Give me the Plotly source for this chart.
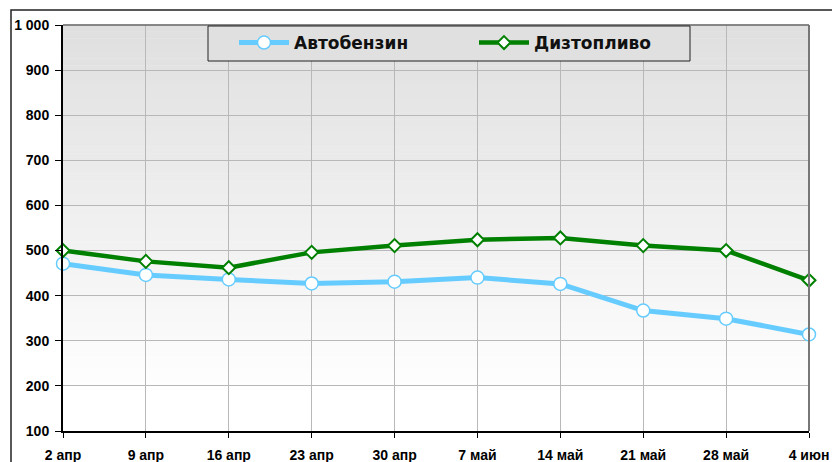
import plotly.graph_objects as go

categories = ["2 апр", "9 апр", "16 апр", "23 апр", "30 апр", "7 май", "14 май", "21 май", "28 май", "4 июн"]
benzin = [471, 446, 436, 427, 431, 440, 426, 367, 349, 314]
diesel = [500, 476, 462, 496, 511, 524, 528, 511, 500, 434]
y_ticks = [100, 200, 300, 400, 500, 600, 700, 800, 900, 1000]
y_tick_labels = ["100", "200", "300", "400", "500", "600", "700", "800", "900", "1 000"]

W, H = 832, 462
ml, mr, mt, mb = 63, 23, 25, 31
PW, PH = W - ml - mr, H - mt - mb


def px_x(p):
    return (p - ml) / PW


def px_y(p):
    return (H - mb - p) / PH


fig = go.Figure()
fig.add_trace(go.Scatter(
    x=categories, y=benzin, name="Автобензин", mode="lines+markers",
    line=dict(color="#66ccff", width=5),
    marker=dict(symbol="circle", size=13, color="white", line=dict(color="#66ccff", width=1.5)),
    cliponaxis=False,
))
fig.add_trace(go.Scatter(
    x=categories, y=diesel, name="Дизтопливо", mode="lines+markers",
    line=dict(color="#008000", width=4.5),
    marker=dict(symbol="diamond", size=10, color="white", line=dict(color="#008000", width=2)),
    cliponaxis=False,
))

shapes = []
n = 60
for i in range(n):
    t0 = i / n
    t1 = (i + 1) / n
    t = (i + 0.5) / n
    c = int(round(223 + (255 - 223) * min(1.0, t / 0.92)))
    shapes.append(dict(type="rect", xref="x domain", yref="y domain",
                       x0=0, x1=1, y0=1 - t1, y1=1 - t0 + 0.001,
                       fillcolor=f"rgb({c},{c},{c})", line=dict(width=0), layer="below"))
shapes.append(dict(type="line", xref="x domain", yref="y domain", x0=0, x1=1, y0=1, y1=1,
                   line=dict(color="#666666", width=1.5)))
shapes.append(dict(type="line", xref="x domain", yref="y domain", x0=1, x1=1, y0=0, y1=1,
                   line=dict(color="#777777", width=2)))
# legend box
shapes.append(dict(type="rect", xref="paper", yref="paper",
                   x0=px_x(208), x1=px_x(690), y0=px_y(61), y1=px_y(26),
                   fillcolor="#e0e0e0", line=dict(color="#222222", width=1), layer="above"))
# outer chart frame
shapes.append(dict(type="rect", xref="paper", yref="paper",
                   x0=px_x(11), x1=1.2, y0=-0.3, y1=px_y(10),
                   line=dict(color="#222222", width=1.5), fillcolor="rgba(0,0,0,0)", layer="above"))

fig.update_layout(
    width=W, height=H,
    margin=dict(l=ml, r=mr, t=mt, b=mb, autoexpand=False),
    paper_bgcolor="white",
    plot_bgcolor="white",
    shapes=shapes,
    showlegend=True,
    legend=dict(
        orientation="h",
        x=px_x(234), xanchor="left",
        y=1.0, yanchor="top",
        bgcolor="rgba(0,0,0,0)", borderwidth=0,
        font=dict(family="DejaVu Sans, Arial, sans-serif", size=17, color="#111111", weight="bold"),
        entrywidth=175, entrywidthmode="pixels",
        itemwidth=50,
        tracegroupgap=0,
    ),
    font=dict(family="Arial, Liberation Sans, sans-serif", size=13, color="black"),
)

fig.update_xaxes(
    type="category", range=[0, 9], automargin=False,
    showgrid=True, gridcolor="#b8b8b8", gridwidth=1,
    showline=True, linecolor="black", linewidth=2,
    ticks="outside", ticklen=5, tickcolor="black", tickwidth=1,
    ticklabelstandoff=5,
    tickfont=dict(family="Arial, Liberation Sans, sans-serif", size=14, color="black", weight="bold"),
    zeroline=False,
)
fig.update_yaxes(
    range=[100, 1000], automargin=False,
    tickvals=y_ticks, ticktext=y_tick_labels,
    showgrid=True, gridcolor="#b8b8b8", gridwidth=1,
    showline=True, linecolor="black", linewidth=2,
    ticks="outside", ticklen=6, tickcolor="black", tickwidth=1,
    ticklabelstandoff=3,
    tickfont=dict(family="Arial, Liberation Sans, sans-serif", size=14, color="black", weight="bold"),
    zeroline=False,
)

fig.write_html("out.html",
               config={"displayModeBar": False},
               post_script="document.body.style.margin='0';document.body.style.overflow='hidden';")
